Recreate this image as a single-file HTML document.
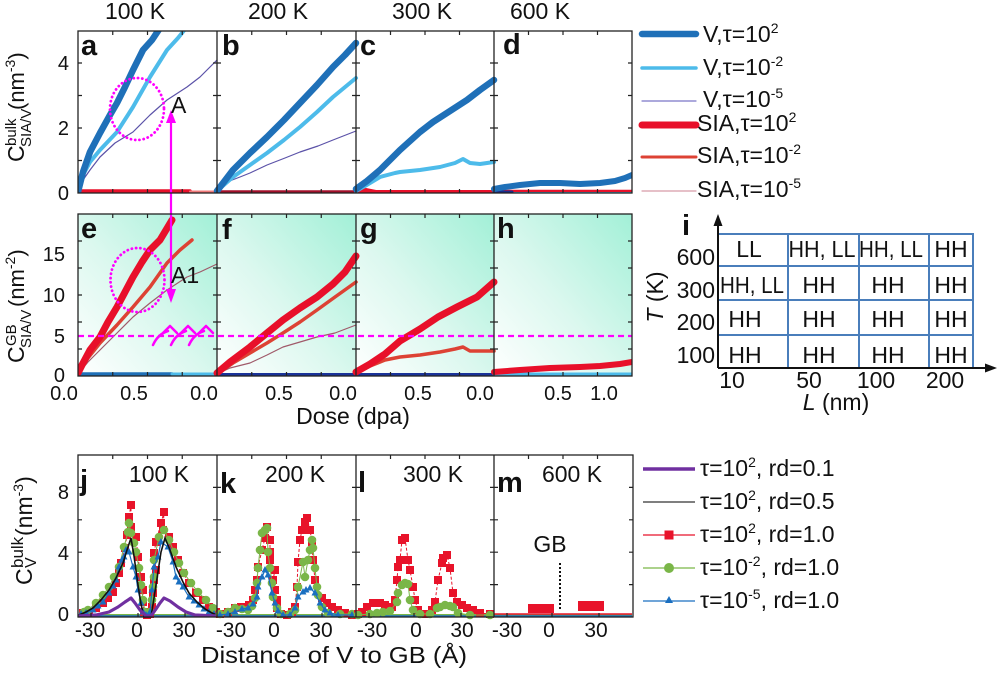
<!DOCTYPE html>
<html><head><meta charset="utf-8"><style>
html,body{margin:0;padding:0;background:#fff;}
svg{display:block;}
text{font-family:"Liberation Sans",Arial,sans-serif;fill:#111;}
</style></head><body>
<svg width="1000" height="675" viewBox="0 0 1000 675" xmlns="http://www.w3.org/2000/svg">
<defs>
<linearGradient id="gb" x1="0" y1="1" x2="1" y2="0">
<stop offset="0" stop-color="#ffffff"/><stop offset="0.45" stop-color="#dcf8ef"/><stop offset="1" stop-color="#a2f0d7"/>
</linearGradient>
<clipPath id="c1"><rect x="78" y="31" width="554" height="162"/></clipPath>
<clipPath id="c2"><rect x="78" y="214" width="554" height="162"/></clipPath>
<marker id="ms" viewBox="0 0 8 8" refX="4" refY="4" markerWidth="8" markerHeight="8" markerUnits="userSpaceOnUse"><rect width="8" height="8" fill="#e8132a"/></marker>
<marker id="mc" viewBox="0 0 9 9" refX="4.5" refY="4.5" markerWidth="9" markerHeight="9" markerUnits="userSpaceOnUse"><circle cx="4.5" cy="4.5" r="4.3" fill="#7ab648"/></marker>
<marker id="mt" viewBox="0 0 7 7" refX="3.5" refY="4" markerWidth="7" markerHeight="7" markerUnits="userSpaceOnUse"><path d="M3.5,0 L7,6.5 L0,6.5Z" fill="#1a6fc0"/></marker>
</defs>
<rect width="1000" height="675" fill="#fff"/>

<!-- column headers -->
<text x="135" y="19" font-size="23" text-anchor="middle">100 K</text>
<text x="278" y="19" font-size="23" text-anchor="middle">200 K</text>
<text x="422" y="19" font-size="23" text-anchor="middle">300 K</text>
<text x="540" y="19" font-size="23" text-anchor="middle">600 K</text>

<!-- middle backgrounds -->
<rect x="78" y="214" width="139" height="162" fill="url(#gb)"/>
<rect x="217" y="214" width="139" height="162" fill="url(#gb)"/>
<rect x="356" y="214" width="138" height="162" fill="url(#gb)"/>
<rect x="494" y="214" width="138" height="162" fill="url(#gb)"/>

<!-- TOP ROW curves -->
<g clip-path="url(#c1)" fill="none" stroke-linejoin="round" stroke-linecap="round">
<!-- bottoms -->
<path d="M78,191 H190" stroke="#e8102a" stroke-width="3.5"/>
<path d="M190,191.5 H217" stroke="#f07a7a" stroke-width="2"/>
<path d="M217,192 H356" stroke="#a3102c" stroke-width="3.5"/>
<path d="M356,191.5 H494" stroke="#e8102a" stroke-width="3"/>
<path d="M356,190 L366,189 L376,191" stroke="#e8102a" stroke-width="2"/>
<path d="M494,191 H632" stroke="#e8102a" stroke-width="2.5"/>
<path d="M500,193 H632" stroke="#4dbbea" stroke-width="2"/>
<path d="M494,192 H512" stroke="#1a2a8a" stroke-width="3"/>
<!-- a -->
<polyline points="78,193 83,180 90,170 100,157 115,143 133,132 150,115 167,100 187,87 200,77 217,60" stroke="#5b52a8" stroke-width="1.2"/>
<polyline points="78,192 83,175 90,162 100,150 117,132 133,107 150,77 167,50 178,38 186,28" stroke="#4dbbea" stroke-width="4"/>
<polyline points="78,192 83,172 90,152 100,133 110,115 117,103 125,87 133,70 143,50 152,40 160,28" stroke="#1f70b8" stroke-width="6.5"/>
<!-- b -->
<polyline points="217,192 222,185 227,182 240,177 250,173 267,165 285,158 300,152 318,146 333,140 356,131" stroke="#5b52a8" stroke-width="1.2"/>
<polyline points="217,191 233,177 250,165 267,153 284,140 300,127 317,112 333,97 356,78" stroke="#4dbbea" stroke-width="4"/>
<polyline points="217,191 233,170 250,153 267,137 284,120 300,103 317,85 333,67 345,55 356,43" stroke="#1f70b8" stroke-width="6.5"/>
<!-- c -->
<polyline points="356,191 365,186 380,177 395,173 400,172 420,170 440,167 455,163 463,159 470,163 480,164 494,162" stroke="#4dbbea" stroke-width="4"/>
<polyline points="356,189 367,181 380,170 400,150 420,132 433,122 450,111 467,100 480,90 494,80" stroke="#1f70b8" stroke-width="6.5"/>
<!-- d -->
<polyline points="494,189 505,187 520,185 540,183 560,183 580,184 600,183 615,181 625,178 632,175" stroke="#1f70b8" stroke-width="6"/>
</g>

<!-- MIDDLE ROW curves -->
<g clip-path="url(#c2)" fill="none" stroke-linejoin="round" stroke-linecap="round">
<path d="M78,374 H172" stroke="#1f70b8" stroke-width="3.5"/>
<path d="M172,374 H217" stroke="#4dbbea" stroke-width="3"/>
<path d="M217,374.5 H356" stroke="#1a3399" stroke-width="3"/>
<path d="M356,374.5 H494" stroke="#1a3399" stroke-width="3"/>
<path d="M494,374 H632" stroke="#4dbbea" stroke-width="3"/>
<!-- e -->
<polyline points="78,374 88,362 100,350 117,333 133,317 150,303 167,290 187,277 200,272 217,264" stroke="#a05a6a" stroke-width="1.2"/>
<polyline points="78,373 88,358 100,343 117,325 133,307 150,287 167,263 180,250 192,240" stroke="#dd4234" stroke-width="3.5"/>
<polyline points="78,373 82,365 90,350 100,337 108,322 117,307 125,292 133,277 142,262 150,250 160,240 166,230 172,220" stroke="#e8102a" stroke-width="7"/>
<!-- f -->
<polyline points="217,374 230,368 250,363 267,355 283,347 300,342 317,337 335,333 356,325" stroke="#a05a6a" stroke-width="1.2"/>
<polyline points="217,374 233,363 250,353 267,343 283,333 300,322 317,310 335,297 356,282" stroke="#dd4234" stroke-width="3.5"/>
<polyline points="217,373 230,362 250,347 267,333 283,320 300,308 317,297 333,284 345,272 356,256" stroke="#e8102a" stroke-width="7"/>
<!-- g -->
<polyline points="356,373 370,366 385,360 400,357 420,355 440,352 455,349 463,347 470,351 494,351" stroke="#dd4234" stroke-width="3.5"/>
<polyline points="356,372 370,364 385,354 400,341 420,329 438,317 457,307 477,297 494,282" stroke="#e8102a" stroke-width="7"/>
<!-- h -->
<polyline points="494,372 520,370 550,368 580,367 600,366 620,364 632,362" stroke="#e8102a" stroke-width="6"/>
</g>

<!-- dashed magenta horizontal -->
<line x1="78" y1="336" x2="632" y2="336" stroke="#ff00ff" stroke-width="2.2" stroke-dasharray="6,4"/>
<!-- hooks -->
<g fill="none" stroke="#ff00ff" stroke-width="2.5" stroke-linecap="round" stroke-linejoin="round">
<path d="M153,345 Q158,334 168,331"/><path d="M163,333 L170,326 L177,333"/>
<path d="M171,345 Q176,334 186,331"/><path d="M181,333 L188,326 L195,333"/>
<path d="M189,345 Q194,334 204,331"/><path d="M199,333 L206,326 L213,333"/>
</g>
<!-- dotted circles -->
<ellipse cx="137" cy="109" rx="27" ry="31" fill="none" stroke="#ff00ff" stroke-width="2.8" stroke-dasharray="0.1,4.2" stroke-linecap="round"/>
<ellipse cx="137.5" cy="280" rx="27" ry="32" fill="none" stroke="#ff00ff" stroke-width="2.8" stroke-dasharray="0.1,4.2" stroke-linecap="round"/>
<!-- double arrow -->
<line x1="171" y1="120" x2="171" y2="292" stroke="#ff00ff" stroke-width="2.2"/>
<path d="M171,110 L166,123 L176,123Z" fill="#ff00ff"/>
<path d="M171,303 L166,289 L176,289Z" fill="#ff00ff"/>
<text x="171" y="113" font-size="23">A</text>
<text x="171" y="283" font-size="23">A1</text>

<!-- BOTTOM ROW -->
<g fill="none">
<!-- baselines -->
<path d="M78,615 H632" stroke="#7ab648" stroke-width="2"/>
<path d="M78,616.3 H632" stroke="#1a6fc0" stroke-width="2.2"/>
<!-- j -->
<polyline points="83,613 89,612 96,608 103,603 108,598 113,592 116,583 119,573 121,563 125,548 127,535 129,517 131,505 131,527 136,537 138,557 141,577 143,590 143,602 144,612 147,615 150,614 152,607 153,593 154,580 156,570 154,553 156,542 161,523 164,512 163,530 169,537 173,547 178,560 183,573 189,583 196,593 203,600 209,607 216,612" stroke="#e8132a" stroke-width="1" stroke-dasharray="3,2" marker-start="url(#ms)" marker-mid="url(#ms)" marker-end="url(#ms)"/>
<polyline points="84,612 88,610 96,603 103,595 109,587 114,577 119,567 124,547 128,532 129,523 131,533 134,543 136,552 139,568 141,585 143,600 145,612 150,612 152,600 153,587 154,577 154,560 159,537 164,530 169,540 174,552 179,563 184,573 191,583 198,592 206,600 213,608" stroke="#7ab648" stroke-width="1" marker-start="url(#mc)" marker-mid="url(#mc)" marker-end="url(#mc)"/>
<polyline points="81,614 86,613 93,610 98,606 103,602 109,593 113,586 116,580 119,567 122,560 124,557 126,550 129,552 133,567 136,577 138,590 141,603 143,612 146,615 150,612 152,590 154,567 158,557 161,542 168,547 173,562 176,577 179,582 183,587 189,597 194,601 199,605 204,609 209,612 214,614" stroke="#1a6fc0" stroke-width="1.2" marker-start="url(#mt)" marker-mid="url(#mt)" marker-end="url(#mt)"/>
<polyline points="79,615 86,612 93,608 101,600 109,590 116,578 123,563 127,550 131,538 134,556 138,585 141,604 144,617 151,617 154,598 158,572 161,552 165,538 170,550 176,567 183,582 189,593 197,602 205,609 212,613 217,615" stroke="#111" stroke-width="1.6"/>
<polyline points="78,616 96,615 109,612 118,607 125,602 131,598 135,603 140,610 146,616 151,616 156,609 160,603 164,598 170,601 178,607 186,612 195,615 217,616" stroke="#7030a0" stroke-width="3.2" stroke-linejoin="round"/>
<!-- k -->
<polyline points="220,614 228,612 235,608 241,607 245,607 249,605 253,600 255,590 257,580 258,567 262,550 265,538 267,527 270,540 270,552 270,560 275,570 273,580 275,590 277,600 277,608 281,614 287,615 292,612 295,607 297,587 298,562 300,540 302,530 305,522 307,518 310,530 312,542 313,560 315,580 322,598 327,603 332,607 338,610 345,613 352,615" stroke="#e8132a" stroke-width="1" stroke-dasharray="3,2" marker-start="url(#ms)" marker-mid="url(#ms)" marker-end="url(#ms)"/>
<polyline points="220,614 228,612 235,608 242,609 248,610 252,606 255,598 257,583 258,568 260,550 262,533 265,530 267,528 268,552 270,568 272,583 273,597 277,608 281,614 290,614 295,610 298,587 303,562 305,577 308,560 310,550 312,540 313,548 315,568 317,587 318,595 322,607 328,613 340,614 352,614" stroke="#7ab648" stroke-width="1" marker-start="url(#mc)" marker-mid="url(#mc)" marker-end="url(#mc)"/>
<polyline points="220,615 228,614 235,612 242,609 248,608 253,604 257,597 258,587 262,577 265,570 268,575 272,593 275,603 278,611 283,615 290,615 295,608 298,597 303,592 306,590 310,588 315,593 320,603 325,610 330,613 338,615 352,615" stroke="#1a6fc0" stroke-width="1.2" marker-start="url(#mt)" marker-mid="url(#mt)" marker-end="url(#mt)"/>
<!-- l -->
<polyline points="358,614 362,612 367,607 373,603 380,603 385,605 392,607 395,600 397,580 398,567 400,560 402,540 405,538 408,560 410,570 413,587 415,600 418,610 425,614 432,610 435,602 438,580 442,563 443,558 447,555 450,568 453,593 457,602 462,605 467,608 473,610 480,613 490,614" stroke="#e8132a" stroke-width="1" stroke-dasharray="3,2" marker-start="url(#ms)" marker-mid="url(#ms)" marker-end="url(#ms)"/>
<polyline points="358,615 370,614 377,613 383,612 390,611 397,602 398,593 402,585 405,583 408,584 410,600 413,610 420,614 430,614 437,608 440,607 445,605 450,606 453,607 458,613 470,615 490,615" stroke="#7ab648" stroke-width="1" marker-start="url(#mc)" marker-mid="url(#mc)" marker-end="url(#mc)"/>
<!-- m -->
<path d="M494,614 H632" stroke="#e8132a" stroke-width="1.5"/>
</g>
<rect x="528" y="604" width="26" height="9" fill="#e8132a"/>
<rect x="578" y="601" width="26" height="10" fill="#e8132a"/>
<line x1="560" y1="563" x2="560" y2="610" stroke="#111" stroke-width="2" stroke-dasharray="2,2"/>
<text x="550" y="552" font-size="23" text-anchor="middle">GB</text>

<!-- FRAMES -->
<g fill="none" stroke="#222" stroke-width="1.3">
<rect x="78" y="31" width="554" height="162"/>
<path d="M217,31V193 M356,31V193 M494,31V193"/>
<rect x="78" y="214" width="554" height="162"/>
<path d="M217,214V376 M356,214V376 M494,214V376"/>
<rect x="78" y="455" width="555" height="162"/>
<path d="M217,455V617 M356,455V617 M494,455V617"/>
</g>
<!-- TICKS -->
<g stroke="#222" stroke-width="1.2" fill="none">
<path d="M78,63h4M78,95.5h4M78,128h4M78,160.5h4 M213,63h8M213,95.5h8M213,128h8M213,160.5h8 M352,63h8M352,95.5h8M352,128h8M352,160.5h8 M490,63h8M490,95.5h8M490,128h8M490,160.5h8 M628,63h4M628,95.5h4M628,128h4M628,160.5h4"/>
<path d="M112.75,31v4M147.5,31v4M182.25,31v4M251.75,31v4M286.5,31v4M321.25,31v4M390.5,31v4M425,31v4M459.5,31v4M528.5,31v4M563,31v4M597.5,31v4 M112.75,193v-4M147.5,193v-4M182.25,193v-4M251.75,193v-4M286.5,193v-4M321.25,193v-4M390.5,193v-4M425,193v-4M459.5,193v-4M528.5,193v-4M563,193v-4M597.5,193v-4"/>
<path d="M78,241h4M78,268h4M78,295h4M78,322h4M78,349h4 M213,241h8M213,268h8M213,295h8M213,322h8M213,349h8 M352,241h8M352,268h8M352,295h8M352,322h8M352,349h8 M490,241h8M490,268h8M490,295h8M490,322h8M490,349h8 M628,241h4M628,268h4M628,295h4M628,322h4M628,349h4"/>
<path d="M112.75,214v4M147.5,214v4M182.25,214v4M251.75,214v4M286.5,214v4M321.25,214v4M390.5,214v4M425,214v4M459.5,214v4M528.5,214v4M563,214v4M597.5,214v4 M112.75,376v-4M147.5,376v-4M182.25,376v-4M251.75,376v-4M286.5,376v-4M321.25,376v-4M390.5,376v-4M425,376v-4M459.5,376v-4M528.5,376v-4M563,376v-4M597.5,376v-4"/>
<path d="M78,487.4h4M78,519.8h4M78,552.2h4M78,584.6h4 M213,487.4h8M213,519.8h8M213,552.2h8M213,584.6h8 M352,487.4h8M352,519.8h8M352,552.2h8M352,584.6h8 M490,487.4h8M490,519.8h8M490,552.2h8M490,584.6h8 M629,487.4h4M629,519.8h4M629,552.2h4M629,584.6h4"/>
<path d="M112.75,455v4M147.5,455v4M182.25,455v4M251.75,455v4M286.5,455v4M321.25,455v4M390.5,455v4M425,455v4M459.5,455v4M528.5,455v4M563,455v4M597.5,455v4 M91,617v-4M138,617v-4M185,617v-4M230,617v-4M275,617v-4M322,617v-4M369,617v-4M414,617v-4M461,617v-4M507,617v-4M552,617v-4M599,617v-4"/>
</g>

<!-- panel letters -->
<g font-size="29" font-weight="bold">
<text x="81" y="55">a</text><text x="222" y="55">b</text><text x="360" y="55">c</text><text x="503" y="54">d</text>
<text x="81" y="238">e</text><text x="222" y="239">f</text><text x="360" y="238">g</text><text x="497" y="238">h</text>
<text x="80" y="490">j</text><text x="220" y="493">k</text><text x="358" y="492">l</text><text x="497" y="492">m</text>
</g>
<g font-size="23" text-anchor="middle">
<text x="159" y="482">100 K</text><text x="295" y="482">200 K</text><text x="433" y="482">300 K</text><text x="572" y="482">600 K</text>
</g>

<!-- y tick labels -->
<g font-size="20" text-anchor="end">
<text x="69" y="70">4</text><text x="69" y="135">2</text><text x="69" y="200">0</text>
<text x="65" y="261">15</text><text x="65" y="302">10</text><text x="65" y="343">5</text><text x="65" y="382">0</text>
<text x="69" y="499">8</text><text x="69" y="560">4</text><text x="69" y="621">0</text>
</g>
<!-- x tick labels middle -->
<g font-size="20" text-anchor="middle">
<text x="64" y="400">0.0</text><text x="134" y="400">0.5</text>
<text x="204" y="400">0.0</text><text x="279" y="400">0.5</text>
<text x="343" y="400">0.0</text><text x="418" y="400">0.5</text>
<text x="480" y="400">0.0</text><text x="558" y="400">0.5</text><text x="604" y="400">1.0</text>
</g>
<text x="353" y="424" font-size="23" text-anchor="middle">Dose (dpa)</text>
<!-- x tick labels bottom -->
<g font-size="21" text-anchor="middle">
<text x="90" y="637">-30</text><text x="137" y="637">0</text><text x="184" y="637">30</text>
<text x="231" y="637">-30</text><text x="274" y="637">0</text><text x="321" y="637">30</text>
<text x="372" y="637">-30</text><text x="416" y="637">0</text><text x="462" y="637">30</text>
<text x="507" y="637">-30</text><text x="549" y="637">0</text><text x="596" y="637">30</text>
</g>
<text x="334" y="663" font-size="23" text-anchor="middle" textLength="266" lengthAdjust="spacingAndGlyphs">Distance of V to GB (Å)</text>

<!-- y axis labels -->
<g transform="translate(24,0) rotate(-90)">
<text x="-162" y="0" font-size="23">C</text>
<text x="-146" y="-8" font-size="15">bulk</text>
<text x="-147" y="7" font-size="15">SIA/V</text>
<text x="-110" y="0" font-size="22">(nm<tspan font-size="14" dy="-9">-3</tspan><tspan dy="9">)</tspan></text>
</g>
<g transform="translate(24,0) rotate(-90)">
<text x="-363" y="0" font-size="23">C</text>
<text x="-346" y="-8" font-size="15">GB</text>
<text x="-348" y="7" font-size="15">SIA/V</text>
<text x="-307" y="0" font-size="22">(nm<tspan font-size="14" dy="-9">-2</tspan><tspan dy="9">)</tspan></text>
</g>
<g transform="translate(32,0) rotate(-90)">
<text x="-585" y="0" font-size="23">C</text>
<text x="-568" y="-9" font-size="17">bulk</text>
<text x="-568" y="4" font-size="16">V</text>
<text x="-536" y="0" font-size="23">(nm<tspan font-size="14" dy="-9">-3</tspan><tspan dy="9">)</tspan></text>
</g>

<!-- top legend -->
<g stroke-linecap="round">
<line x1="642" y1="34" x2="696" y2="34" stroke="#1f70b8" stroke-width="6.5"/>
<line x1="642" y1="68" x2="696" y2="68" stroke="#4dbbea" stroke-width="3.5"/>
<line x1="642" y1="101" x2="696" y2="101" stroke="#7b76c8" stroke-width="1.2"/>
<line x1="642" y1="125" x2="696" y2="125" stroke="#e8102a" stroke-width="7"/>
<line x1="642" y1="157" x2="696" y2="157" stroke="#dd4234" stroke-width="3"/>
<line x1="642" y1="191" x2="696" y2="191" stroke="#d89aa8" stroke-width="1.2"/>
</g>
<g font-size="23">
<text x="703" y="42">V,τ=10<tspan font-size="14" dy="-9">2</tspan></text>
<text x="703" y="75">V,τ=10<tspan font-size="14" dy="-9">-2</tspan></text>
<text x="703" y="107">V,τ=10<tspan font-size="14" dy="-9">-5</tspan></text>
<text x="697" y="131">SIA,τ=10<tspan font-size="14" dy="-9">2</tspan></text>
<text x="697" y="163">SIA,τ=10<tspan font-size="14" dy="-9">-2</tspan></text>
<text x="697" y="197">SIA,τ=10<tspan font-size="14" dy="-9">-5</tspan></text>
</g>

<!-- bottom legend -->
<line x1="643" y1="469" x2="695" y2="469" stroke="#7030a0" stroke-width="3.5"/>
<line x1="643" y1="502" x2="695" y2="502" stroke="#333" stroke-width="1.3"/>
<line x1="643" y1="535" x2="695" y2="535" stroke="#e8132a" stroke-width="1.3"/>
<rect x="664.5" y="530.5" width="9" height="9" fill="#e8132a"/>
<line x1="643" y1="568" x2="695" y2="568" stroke="#7ab648" stroke-width="1.3"/>
<circle cx="669" cy="568" r="5" fill="#7ab648"/>
<line x1="643" y1="601" x2="695" y2="601" stroke="#1a6fc0" stroke-width="1.3"/>
<path d="M669,596 L673,603 L665,603Z" fill="#1a6fc0"/>
<g font-size="23">
<text x="700" y="476">τ=10<tspan font-size="14" dy="-9">2</tspan><tspan dy="9">, rd=0.1</tspan></text>
<text x="700" y="509">τ=10<tspan font-size="14" dy="-9">2</tspan><tspan dy="9">, rd=0.5</tspan></text>
<text x="700" y="542">τ=10<tspan font-size="14" dy="-9">2</tspan><tspan dy="9">, rd=1.0</tspan></text>
<text x="700" y="575">τ=10<tspan font-size="14" dy="-9">-2</tspan><tspan dy="9">, rd=1.0</tspan></text>
<text x="700" y="608">τ=10<tspan font-size="14" dy="-9">-5</tspan><tspan dy="9">, rd=1.0</tspan></text>
</g>

<!-- PANEL i -->
<g fill="none" stroke="#4a7ebb" stroke-width="2">
<path d="M719,234 H973 V368 M719,266 H973 M719,300 H973 M719,335 H973 M788,234 V368 M859,234 V368 M929,234 V368"/>
</g>
<g stroke="#111" stroke-width="2" fill="none">
<path d="M718,368 V224 M718,368 H988"/>
</g>
<path d="M718,214 L713.5,226 L722.5,226Z" fill="#111"/>
<path d="M997,368 L985,363.5 L985,372.5Z" fill="#111"/>
<text x="682" y="235" font-size="29" font-weight="bold">i</text>
<g font-size="23" text-anchor="end">
<text x="715" y="265">600</text><text x="715" y="298">300</text><text x="715" y="330">200</text><text x="715" y="363">100</text>
</g>
<text transform="translate(663,297) rotate(-90)" font-size="23" text-anchor="middle"><tspan font-style="italic">T</tspan> (K)</text>
<g font-size="23" text-anchor="middle">
<text x="749" y="257">LL</text>
<text x="822" y="257" textLength="67" lengthAdjust="spacingAndGlyphs">HH, LL</text>
<text x="891" y="257" textLength="64" lengthAdjust="spacingAndGlyphs">HH, LL</text>
<text x="951" y="257">HH</text>
<text x="752" y="293" textLength="64" lengthAdjust="spacingAndGlyphs">HH, LL</text>
<text x="819" y="293">HH</text><text x="888" y="293">HH</text><text x="951" y="293">HH</text>
<text x="745" y="327">HH</text><text x="819" y="327">HH</text><text x="888" y="327">HH</text><text x="951" y="327">HH</text>
<text x="745" y="363">HH</text><text x="819" y="363">HH</text><text x="888" y="363">HH</text><text x="951" y="363">HH</text>
</g>
<g font-size="23" text-anchor="middle">
<text x="732" y="388">10</text><text x="809" y="388">50</text><text x="876" y="388">100</text><text x="945" y="388">200</text>
</g>
<text x="836" y="410" font-size="23" text-anchor="middle"><tspan font-style="italic">L</tspan> (nm)</text>
</svg>
</body></html>
